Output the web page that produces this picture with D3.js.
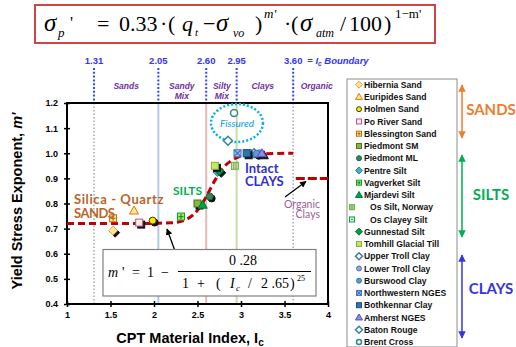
<!DOCTYPE html>
<html>
<head>
<meta charset="utf-8">
<script src="https://cdn.jsdelivr.net/npm/d3@7"></script>
<style>
  body { margin: 0; background: #fff; }
  svg { display: block; }
  text { font-family: "Liberation Sans", Arial, sans-serif; }
  .serif, .serif text { font-family: "Liberation Serif", "Times New Roman", serif; }
  .cal, .cal text { font-family: Lato, "Open Sans", sans-serif; }
</style>
</head>
<body>
<div id="container"></div>
<script>
// Ic boundaries along the top and the zone names between them
var boundaries = [1.31, 2.05, 2.60, 2.95, 3.60];
var boundaryLabels = ["1.31", "2.05", "2.60", "2.95", "3.60"];
var zoneNames = [["Sands"], ["Sandy", "Mix"], ["Silty", "Mix"], ["Clays"], ["Organic"]];
var zoneCenters = [1.68, 2.32, 2.78, 3.25, 3.87];

// axis ticks
var xTicks = [1, 1.5, 2, 2.5, 3, 3.5, 4];
var yTicks = [0.4, 0.5, 0.6, 0.7, 0.8, 0.9, 1.0, 1.1, 1.2];

// trend curve (red dashed)
var curveIc = [1.0, 1.5, 2.0, 2.1, 2.2, 2.3, 2.4, 2.5, 2.6, 2.7, 2.8, 2.9, 3.0, 3.1, 3.2, 3.4, 3.6];
var curveM  = [0.72, 0.72, 0.721, 0.722, 0.723, 0.728, 0.742, 0.773, 0.827, 0.892, 0.944, 0.973, 0.988, 0.995, 0.997, 0.999, 1.0];
// organic clays level
var organicIc = [3.63, 4.0];
var organicM  = [0.9, 0.9];

// site series
var seriesNames = ["Hibernia Sand", "Euripides Sand", "Holmen Sand", "Po River Sand", "Blessington Sand",
  "Piedmont SM", "Piedmont ML", "Pentre Silt", "Vagverket Silt", "Mjardevi Silt", "Os Silt, Norway",
  "Os Clayey Silt", "Gunnestad Silt", "Tomhill Glacial Till", "Upper Troll Clay", "Lower Troll Clay",
  "Burswood Clay", "Northwestern NGES", "Bothkennar Clay", "Amherst NGES", "Baton Rouge", "Brent Cross"];
var seriesIc = [[1.53], [1.77], [1.985], [1.83], [1.53],
  [2.50], [2.64], [2.73], [2.31], [2.56], [2.93],
  [3.08], [2.75], [2.70], [3.15], [3.21],
  [3.18], [2.96], [3.065], [3.24], [2.85], [2.92]];
var seriesM = [[0.692], [0.772], [0.732], [0.724], [0.741],
  [0.80], [0.828], [0.925], [0.748], [0.795], [0.95],
  [1.0], [0.93], [0.95], [1.0], [1.0],
  [0.998], [1.0], [1.0], [1.0], [1.05], [1.16]];

// marker look per series
var markerShape = ["diamond", "triangle", "circle", "square", "plus",
  "square", "circle", "diamond", "plus", "triangle", "stripes",
  "squareLine", "diamond", "square", "openDiamond", "circle",
  "circle", "cross", "square", "triangle", "openDiamond", "openCircle"];
var markerFill = ["#FFE699", "#FFE699", "#FFE600", "#FFF2CC", "#FFE699",
  "#8DB43C", "#2E8B57", "#4BACC6", "#C4E34A", "#00A050", "#C6E0B4",
  "#E2F0D9", "#00A040", "#C8E36A", "#fff", "#8FAADC",
  "#5B9BD5", "#9DC3E6", "#2E75B6", "#8C8CE8", "#fff", "#fff"];
var markerStroke = ["#E0A040", "#E07B00", "#404000", "#B050B0", "#C07000",
  "#4F6F1F", "#1F5F3F", "#2F7F9F", "#00A040", "#007A3A", "#70AD47",
  "#00A050", "#006F30", "#8AAF2F", "#4472C4", "#4472C4",
  "#2E75B6", "#4472C4", "#1F4E79", "#5050C0", "#31859C", "#31859C"];
var markerShadow = [true, false, true, true, false,
  true, true, false, false, false, false,
  false, true, true, false, false,
  true, false, true, true, false, false];

var W = 516, H = 347;
var svg = d3.select("#container").append("svg").attr("width", W).attr("height", H);

var x = d3.scaleLinear().domain([1, 4]).range([67, 328]);
var y = d3.scaleLinear().domain([0.4, 1.2]).range([304, 103]);

//draw one marker
function marker(g, shape, cx, cy, s, fill, stroke) {
  var h = s / 2;
  if (shape == "circle" || shape == "openCircle") {
    g.append("circle").attr("cx", cx).attr("cy", cy).attr("r", h)
      .attr("fill", fill).attr("stroke", stroke).attr("stroke-width", shape == "openCircle" ? 1.5 : 1);
  } else if (shape == "diamond" || shape == "openDiamond") {
    g.append("path").attr("d", "M" + cx + "," + (cy - h - 1) + "L" + (cx + h + 1) + "," + cy + "L" + cx + "," + (cy + h + 1) + "L" + (cx - h - 1) + "," + cy + "Z")
      .attr("fill", fill).attr("stroke", stroke).attr("stroke-width", shape == "openDiamond" ? 1.5 : 1);
  } else if (shape == "triangle") {
    g.append("path").attr("d", "M" + cx + "," + (cy - h - 1) + "L" + (cx + h + 1) + "," + (cy + h) + "L" + (cx - h - 1) + "," + (cy + h) + "Z")
      .attr("fill", fill).attr("stroke", stroke).attr("stroke-width", 1);
  } else {
    g.append("rect").attr("x", cx - h).attr("y", cy - h).attr("width", s).attr("height", s)
      .attr("fill", fill).attr("stroke", stroke).attr("stroke-width", 1);
    if (shape == "plus") {
      g.append("path").attr("d", "M" + (cx - h + 1) + "," + cy + "H" + (cx + h - 1) + "M" + cx + "," + (cy - h + 1) + "V" + (cy + h - 1))
        .attr("stroke", stroke).attr("stroke-width", 1.3);
    } else if (shape == "cross") {
      g.append("path").attr("d", "M" + (cx - h) + "," + (cy - h) + "L" + (cx + h) + "," + (cy + h) + "M" + (cx + h) + "," + (cy - h) + "L" + (cx - h) + "," + (cy + h))
        .attr("stroke", stroke).attr("stroke-width", 1.2);
    } else if (shape == "stripes") {
      g.append("path").attr("d", "M" + (cx - h / 3) + "," + (cy - h) + "V" + (cy + h) + "M" + (cx + h / 3) + "," + (cy - h) + "V" + (cy + h))
        .attr("stroke", stroke).attr("stroke-width", 1);
    } else if (shape == "squareLine") {
      g.append("path").attr("d", "M" + (cx - h + 1.5) + "," + cy + "H" + (cx + h - 1.5))
        .attr("stroke", stroke).attr("stroke-width", 1);
    }
  }
}

//Top formula
svg.append("rect").attr("x", 35).attr("y", 5).attr("width", 400).attr("height", 38)
  .attr("fill", "#fff").attr("stroke", "#D04545").attr("stroke-width", 2);
var f1 = svg.append("g").attr("class", "serif");
[
  [44, 31, "σ", 25, "italic"], [58, 37, "p", 13, "italic"], [70, 28, "'", 17, "normal"],
  [97, 31, "=", 22, "normal"], [119, 31, "0.33", 22, "normal"], [160, 31, "·", 22, "normal"],
  [168, 31, "(", 22, "normal"], [182, 31, "q", 22, "italic"], [195, 36, "t", 11, "italic"],
  [203, 31, "−", 22, "normal"], [216, 31, "σ", 25, "italic"], [233, 37, "vo", 12, "italic"],
  [255, 31, ")", 22, "normal"], [264, 18, "m'", 13, "italic"], [284, 31, "·", 22, "normal"],
  [291, 31, "(", 22, "normal"], [300, 31, "σ", 25, "italic"], [316, 37, "atm", 12, "italic"],
  [340, 31, "/", 22, "normal"], [349, 31, "100", 22, "normal"], [384, 31, ")", 22, "normal"],
  [395, 18, "1−m'", 13, "normal"]
].forEach(function(p) {
  f1.append("text").attr("x", p[0]).attr("y", p[1]).text(p[2])
    .attr("font-size", p[3]).attr("font-style", p[4]).attr("fill", "#000");
});

//Boundary labels and dotted lines above the plot
var topG = svg.append("g");
boundaries.forEach(function(b, i) {
  topG.append("text").attr("x", x(b)).attr("y", 64).attr("text-anchor", "middle")
    .attr("font-size", 9.5).attr("font-weight", "bold").attr("fill", "#3333FF").text(boundaryLabels[i]);
  topG.append("line").attr("x1", x(b)).attr("x2", x(b)).attr("y1", 68).attr("y2", 103)
    .attr("stroke", "#3344FF").attr("stroke-width", 2).attr("stroke-dasharray", "2,1.8");
});
var bt = topG.append("text").attr("x", x(3.6) + 14).attr("y", 64)
  .attr("font-size", 9.5).attr("font-weight", "bold").attr("fill", "#3333FF");
bt.append("tspan").text("=  ");
bt.append("tspan").attr("font-style", "italic").text("I");
bt.append("tspan").attr("font-style", "italic").attr("font-size", 6.5).attr("dy", 2).text("c");
bt.append("tspan").attr("font-style", "italic").attr("dy", -2).text(" Boundary");

zoneNames.forEach(function(z, i) {
  var t = topG.append("text").attr("text-anchor", "middle").attr("font-size", 8.5).attr("font-weight", "bold")
    .attr("font-style", "italic").attr("fill", "#7030A0");
  z.forEach(function(line, j) {
    t.append("tspan").attr("x", x(zoneCenters[i])).attr("y", 89 + j * 10).text(line);
  });
});

//Plot area
var plot = svg.append("g");
plot.append("rect").attr("x", 67).attr("y", 103).attr("width", 261).attr("height", 201).attr("fill", "#fff");

var bStyle = [
  {c: "#A6A6A6", w: 1.5, d: "1.5,2"},
  {c: "#B4C7E7", w: 2, d: null},
  {c: "#E6B9B8", w: 2, d: null},
  {c: "#C9DBA8", w: 2, d: null},
  {c: "#B3A2C7", w: 1.5, d: "1.5,2"}
];
boundaries.forEach(function(b, i) {
  plot.append("line").attr("x1", x(b)).attr("x2", x(b)).attr("y1", 103).attr("y2", 304)
    .attr("stroke", bStyle[i].c).attr("stroke-width", bStyle[i].w)
    .attr("stroke-dasharray", bStyle[i].d);
});

//axes
var xAxis = plot.append("g").attr("transform", "translate(0,304)")
  .call(d3.axisBottom(x).tickValues(xTicks).tickFormat(d3.format("")).tickSize(3).tickPadding(5));
xAxis.selectAll(".tick line").attr("y1", -3).attr("stroke-width", 1.5);
var yAxis = plot.append("g").attr("transform", "translate(67,0)")
  .call(d3.axisLeft(y).tickValues(yTicks).tickFormat(d3.format(".1f")).tickSize(3).tickPadding(6));
yAxis.selectAll(".tick line").attr("x1", 3).attr("stroke-width", 1.5);
plot.selectAll(".domain").remove();
plot.selectAll(".tick text").attr("font-size", 9).attr("font-weight", "bold")
  .attr("font-family", "'Liberation Sans', Arial, sans-serif").attr("fill", "#000");

plot.append("rect").attr("x", 67).attr("y", 103).attr("width", 261).attr("height", 201)
  .attr("fill", "none").attr("stroke", "#000").attr("stroke-width", 2);

//fissured ellipse
plot.append("ellipse").attr("cx", 237).attr("cy", 123).attr("rx", 26).attr("ry", 19)
  .attr("fill", "none").attr("stroke", "#00B0F0").attr("stroke-width", 2.5).attr("stroke-dasharray", "2,2");
plot.append("text").attr("x", 237).attr("y", 126.5).attr("text-anchor", "middle")
  .attr("class", "cal").attr("font-size", 10).attr("font-style", "italic").attr("fill", "#00A0E0").text("Fissured");

//trend lines
var line = d3.line().x(function(d) { return x(d[0]); }).y(function(d) { return y(d[1]); }).curve(d3.curveMonotoneX);
plot.append("path").attr("d", line(d3.zip(curveIc, curveM)))
  .attr("fill", "none").attr("stroke", "#C00000").attr("stroke-width", 3).attr("stroke-dasharray", "7,4");
plot.append("path").attr("d", line(d3.zip(organicIc, organicM)))
  .attr("fill", "none").attr("stroke", "#C00000").attr("stroke-width", 3).attr("stroke-dasharray", "9,3");

//points
var pts = plot.append("g");
seriesNames.forEach(function(name, i) {
  seriesIc[i].forEach(function(ic, k) {
    var cx = x(ic), cy = y(seriesM[i][k]);
    if (markerShadow[i]) marker(pts, markerShape[i], cx + 2, cy + 2, 7, "#111", "#111");
    marker(pts, markerShape[i], cx, cy, 7, markerFill[i], markerStroke[i]);
  });
});

//annotations (two-line labels as one text each)
var ann = svg.append("g").attr("class", "cal").attr("font-weight", "bold");
var sq = ann.append("text").attr("font-size", 13).attr("fill", "#B8652A");
sq.append("tspan").attr("x", 74).attr("y", 203.5).attr("letter-spacing", 0.6).text("Silica - Quartz");
sq.append("tspan").attr("x", 74).attr("y", 217.5).attr("letter-spacing", -0.5).text("SANDS");
ann.append("text").attr("x", 173).attr("y", 194.5).attr("font-size", 12).attr("fill", "#00B050").text("SILTS");
var ic = ann.append("text").attr("font-size", 13).attr("fill", "#3030D0");
ic.append("tspan").attr("x", 245).attr("y", 173).text("Intact");
ic.append("tspan").attr("x", 245).attr("y", 186).text("CLAYS");
var oc = ann.append("text").attr("text-anchor", "end").attr("font-weight", "normal")
  .attr("font-size", 10.5).attr("fill", "#A0609A");
oc.append("tspan").attr("x", 320).attr("y", 207.5).text("Organic");
oc.append("tspan").attr("x", 320).attr("y", 218).text("Clays");

//arrow marker
var defs = svg.append("defs");
function arrowDef(id, color) {
  defs.append("marker").attr("id", id).attr("viewBox", "0 0 10 10").attr("refX", 9).attr("refY", 5)
    .attr("markerWidth", 5).attr("markerHeight", 5).attr("orient", "auto-start-reverse")
    .append("path").attr("d", "M0,0L10,5L0,10Z").attr("fill", color);
}
arrowDef("ab", "#000");
arrowDef("ao", "#ED7D31");
arrowDef("ag", "#00B050");
arrowDef("al", "#3535E0");

svg.append("line").attr("x1", 285).attr("y1", 197).attr("x2", 306).attr("y2", 181.5)
  .attr("stroke", "#000").attr("stroke-width", 1.3).attr("marker-end", "url(#ab)");
svg.append("line").attr("x1", 175).attr("y1", 251).attr("x2", 167).attr("y2", 229)
  .attr("stroke", "#000").attr("stroke-width", 1.3).attr("marker-end", "url(#ab)");

//m' formula box
svg.append("rect").attr("x", 103).attr("y", 249.5).attr("width", 213).attr("height", 46.5)
  .attr("fill", "#fff").attr("stroke", "#808080").attr("stroke-width", 1.2);
var f2 = svg.append("g").attr("class", "serif");
[
  [108, 277, "m", 14, "italic"], [122, 277, "'", 14, "normal"], [132, 277, "=", 14, "normal"],
  [147, 277, "1", 14, "normal"], [161, 277, "−", 14, "normal"],
  [229, 265, "0 .28", 14, "normal"],
  [182, 288, "1", 14, "normal"], [197, 288, "+", 14, "normal"], [216, 288, "(", 14, "normal"],
  [230, 288, "I", 14, "italic"], [236, 291, "c", 9, "italic"], [248, 288, "/", 14, "normal"],
  [261, 288, "2 .65", 14, "normal"], [290, 288, ")", 14, "normal"], [297, 281, "25", 8, "normal"]
].forEach(function(p) {
  f2.append("text").attr("x", p[0]).attr("y", p[1]).text(p[2])
    .attr("font-size", p[3]).attr("font-style", p[4]).attr("fill", "#000");
});
svg.append("line").attr("x1", 178).attr("x2", 311).attr("y1", 271.5).attr("y2", 271.5)
  .attr("stroke", "#000").attr("stroke-width", 1);

//axis titles
var yt = svg.append("text").attr("transform", "translate(22,201) rotate(-90)").attr("text-anchor", "middle")
  .attr("font-size", 14.5).attr("font-weight", "bold");
yt.append("tspan").text("Yield Stress Exponent, ");
yt.append("tspan").attr("font-style", "italic").text("m'");
var xt = svg.append("text").attr("x", 190).attr("y", 343).attr("text-anchor", "middle")
  .attr("font-size", 14.5).attr("font-weight", "bold");
xt.append("tspan").text("CPT Material Index, I");
xt.append("tspan").attr("font-size", 10).attr("dy", 3).text("c");

//Legend
var leg = svg.append("g");
leg.append("rect").attr("x", 347).attr("y", 79).attr("width", 110).attr("height", 268)
  .attr("fill", "#fff").attr("stroke", "#8c8c8c").attr("stroke-width", 1);
seriesNames.forEach(function(name, i) {
  var cy = 84.7 + i * 12.25;
  var isOs = name.indexOf("Os ") == 0;
  var sx = isOs ? 352 : 359;
  marker(leg, markerShape[i], sx, cy, 5, markerFill[i], markerStroke[i]);
  leg.append("text").attr("x", isOs ? 370 : 364).attr("y", cy + 3.2)
    .attr("font-size", 8.6).attr("font-weight", "bold").attr("fill", "#111").text(name);
});

//group arrows on the right
[[82, 141, "#ED7D31", "ao", "SANDS", 115],
 [152, 240, "#00B050", "ag", "SILTS", 200],
 [252, 341, "#3535E0", "al", "CLAYS", 294]].forEach(function(a) {
  svg.append("line").attr("x1", 462).attr("x2", 462).attr("y1", a[0] + 3).attr("y2", a[1] - 3)
    .attr("stroke", a[2]).attr("stroke-width", 1.5)
    .attr("marker-start", "url(#" + a[3] + ")").attr("marker-end", "url(#" + a[3] + ")");
  svg.append("text").attr("x", 491).attr("y", a[5]).attr("text-anchor", "middle")
    .attr("class", "cal").attr("font-weight", "bold").attr("font-size", 15).attr("fill", a[2]).text(a[4]);
});
</script>
</body>
</html>
